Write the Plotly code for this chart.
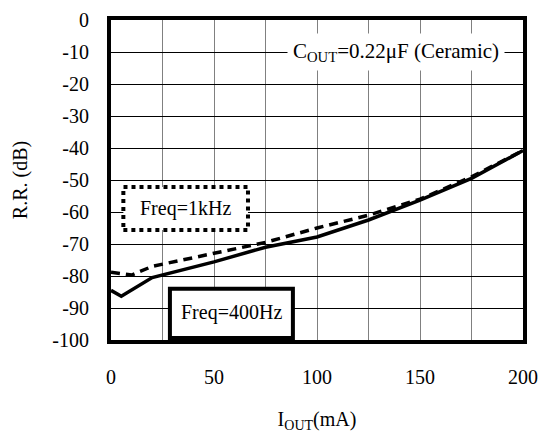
import plotly.graph_objects as go

# R.R. vs I_OUT
iout_400 = [0, 5, 20, 50, 75, 100, 125, 150, 175, 200]
rr_400 = [-84.5, -86.3, -80.5, -75.6, -71.0, -67.8, -62.5, -56.3, -49.5, -40.8]

iout_1k = [0, 10, 20, 45, 75, 100, 125, 150, 175, 200]
rr_1k = [-78.8, -79.7, -77.0, -73.5, -69.5, -65.0, -61.0, -56.0, -49.0, -40.8]

x_ticks = [0, 50, 100, 150, 200]
y_ticks = [0, -10, -20, -30, -40, -50, -60, -70, -80, -90, -100]
y_ticktext = [str(v) for v in y_ticks]  # plain hyphen minus like the original

FONT = "Liberation Serif"

fig = go.Figure()
fig.add_trace(go.Scatter(x=iout_1k, y=rr_1k, mode="lines", name="1kHz",
                         line=dict(color="black", width=3.5, dash="9px,6px")))
fig.add_trace(go.Scatter(x=iout_400, y=rr_400, mode="lines", name="400Hz",
                         line=dict(color="black", width=3.5)))

# label boxes
fig.add_shape(type="rect", x0=6, x1=66.5, y0=-65.6, y1=-52.2,
              line=dict(color="black", width=4, dash="dot"),
              fillcolor="white", layer="above")
fig.add_shape(type="rect", x0=28.6, x1=88.3, y0=-99.4, y1=-84,
              line=dict(color="black", width=4),
              fillcolor="white", layer="above")

fig.add_annotation(x=36.3, y=-58.8, text="Freq=1kHz", showarrow=False,
                   font=dict(family=FONT, size=20, color="black"))
fig.add_annotation(x=58.4, y=-91.5, text="Freq=400Hz", showarrow=False,
                   font=dict(family=FONT, size=20, color="black"))
fig.add_annotation(x=138.5, y=-10, text="C<sub>OUT</sub>=0.22\u03bcF (Ceramic)",
                   showarrow=False, bgcolor="white", borderpad=5,
                   font=dict(family=FONT, size=21, color="black"))

# the page body adds an 8px offset, so margins are shifted to compensate
fig.update_layout(
    width=549, height=432,
    margin=dict(l=103, r=34, t=12, b=100, autoexpand=False),
    paper_bgcolor="white", plot_bgcolor="white",
    showlegend=False,
    font=dict(family=FONT, size=20, color="black"),
)
fig.update_xaxes(range=[0, 200], tickvals=x_ticks, automargin=False,
                 showgrid=True, gridcolor="#808080", gridwidth=1.3,
                 minor=dict(dtick=25, tick0=0, showgrid=True, gridcolor="#808080", gridwidth=1.3),
                 showline=True, linecolor="black", linewidth=4, mirror=True,
                 zeroline=False, ticks="", ticklabelstandoff=16,
                 title=dict(text="I<sub>OUT</sub>(mA)", standoff=26,
                            font=dict(family=FONT, size=20)))
fig.update_yaxes(range=[-100, 0], tickvals=y_ticks, ticktext=y_ticktext,
                 automargin=False,
                 showgrid=True, gridcolor="black", gridwidth=1.3,
                 showline=True, linecolor="black", linewidth=4, mirror=True,
                 zeroline=False, ticks="", ticklabelstandoff=14,
                 title=dict(text="R.R. (dB)", standoff=20,
                            font=dict(family=FONT, size=20)))

fig.write_html("out.html")
